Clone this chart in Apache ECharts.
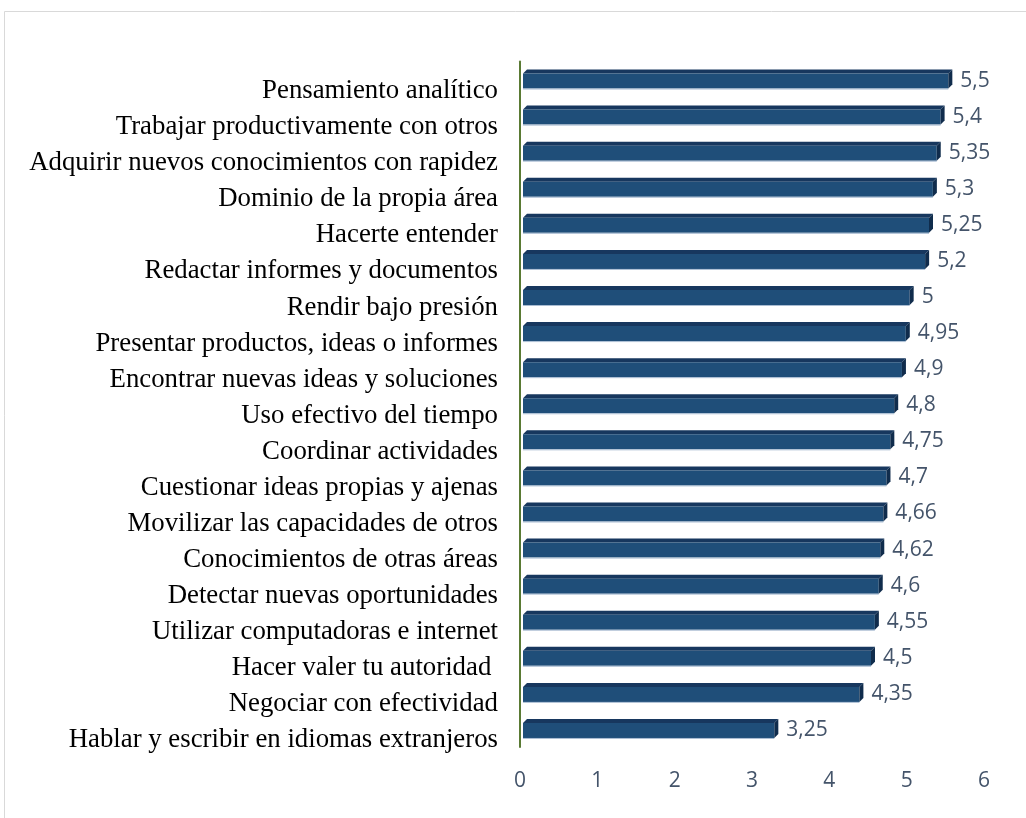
<!DOCTYPE html>
<html>
<head>
<meta charset="utf-8">
<script src="https://cdn.jsdelivr.net/npm/echarts@6/dist/echarts.min.js"></script>
<style>
html,body{margin:0;padding:0;background:#fff;}
#chart{width:1026px;height:818px;}
</style>
</head>
<body>
<div id="chart"></div>
<script>
var categories = [
  "Pensamiento analítico",
  "Trabajar productivamente con otros",
  "Adquirir nuevos conocimientos con rapidez",
  "Dominio de la propia área",
  "Hacerte entender",
  "Redactar informes y documentos",
  "Rendir bajo presión",
  "Presentar productos, ideas o informes",
  "Encontrar nuevas ideas y soluciones",
  "Uso efectivo del tiempo",
  "Coordinar actividades",
  "Cuestionar ideas propias y ajenas",
  "Movilizar las capacidades de otros",
  "Conocimientos de otras áreas",
  "Detectar nuevas oportunidades",
  "Utilizar computadoras e internet",
  "Hacer valer tu autoridad ",
  "Negociar con efectividad",
  "Hablar y escribir en idiomas extranjeros"
];
var values = [5.5, 5.4, 5.35, 5.3, 5.25, 5.2, 5, 4.95, 4.9, 4.8, 4.75, 4.7, 4.66, 4.62, 4.6, 4.55, 4.5, 4.35, 3.25];
var xTicks = [0, 1, 2, 3, 4, 5, 6];

function fmt(v){ return String(v).replace('.', ','); }

var numFont = '"Open Sans", sans-serif';

var chart = echarts.init(document.getElementById('chart'));
var data = values.map(function(v, i){ return [v, i]; });

chart.setOption({
  backgroundColor: '#ffffff',
  animation: false,
  graphic: [{
    type: 'rect',
    shape: {x: 4.5, y: 11.5, width: 1100, height: 900},
    style: {fill: 'none', stroke: '#D9D9D9', lineWidth: 1},
    silent: true
  }],
  grid: {left: 520, right: 42, top: 61.5, bottom: 71},
  xAxis: {
    type: 'value',
    min: xTicks[0],
    max: xTicks[xTicks.length - 1],
    interval: 1,
    splitLine: {show: false},
    axisLine: {show: false},
    axisTick: {show: false},
    axisLabel: {
      color: '#44546A',
      fontFamily: numFont,
      fontSize: 21,
      margin: 24,
      formatter: function(v){ return fmt(v); }
    }
  },
  yAxis: {
    type: 'category',
    data: categories,
    inverse: true,
    axisLine: {show: true, lineStyle: {color: '#5A7A34', width: 2}},
    axisTick: {show: false},
    axisLabel: {
      color: '#000000',
      fontFamily: 'Liberation Serif',
      fontSize: 26.8,
      margin: 22,
      lineHeight: 23,
      verticalAlign: 'top'
    }
  },
  series: [{
    type: 'custom',
    encode: {x: 0, y: 1},
    data: data,
    renderItem: function(params, api){
      var v = api.value(0), i = api.value(1);
      var p0 = api.coord([0, i]);
      var p1 = api.coord([v, i]);
      var yc = p0[1];
      var h = 15, d = 4;
      var top = yc - 6, bottom = top + h;
      var x0 = p0[0] + 3, x1 = p1[0] + 3;
      return {
        type: 'group',
        children: [
          {type: 'polygon', shape: {points: [[x0, top], [x0 + d, top - d], [x1 + d, top - d], [x1, top]]},
           style: {fill: '#17375E'}},
          {type: 'rect', shape: {x: x0, y: top, width: x1 - x0, height: h},
           style: {fill: '#1F4E79'}},
          {type: 'polygon', shape: {points: [[x1, top], [x1 + d, top - d], [x1 + d, bottom - d], [x1, bottom]]},
           style: {fill: '#102C4C'}},
          {type: 'line', shape: {x1: x0, y1: bottom + 0.5, x2: x1, y2: bottom + 0.5},
           style: {stroke: '#A9BCD2', lineWidth: 1}},
          {type: 'text', style: {
            x: x1 + d + 8, y: yc + 1, text: fmt(v),
            fill: '#44546A', fontFamily: numFont, fontSize: 21,
            align: 'left', verticalAlign: 'middle'
          }}
        ]
      };
    }
  }]
});
</script>
</body>
</html>
